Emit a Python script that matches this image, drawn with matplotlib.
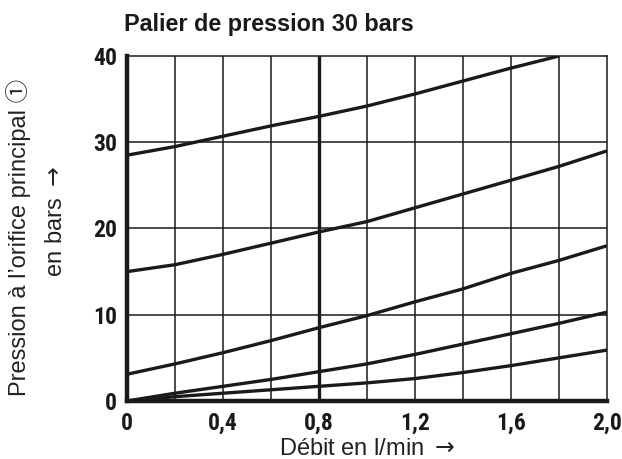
import matplotlib.pyplot as plt
from matplotlib import font_manager
import numpy as np

# Débit (l/min) and pressure curves
debit = [0.0, 0.2, 0.4, 0.6, 0.8, 1.0, 1.2, 1.4, 1.6, 1.8, 2.0]
courbe_1 = [28.5, 29.5, 30.7, 31.9, 33.0, 34.2, 35.6, 37.1, 38.6, 40.0]
courbe_2 = [15.0, 15.8, 17.0, 18.3, 19.6, 20.8, 22.4, 24.0, 25.6, 27.2, 29.0]
courbe_3 = [3.1, 4.3, 5.6, 7.0, 8.5, 9.9, 11.5, 13.0, 14.8, 16.3, 18.0]
courbe_4 = [0.0, 0.9, 1.7, 2.5, 3.4, 4.3, 5.4, 6.6, 7.8, 9.0, 10.3]
courbe_5 = [0.0, 0.5, 0.9, 1.3, 1.7, 2.1, 2.6, 3.3, 4.1, 5.0, 5.9]

xticks = [0.0, 0.4, 0.8, 1.2, 1.6, 2.0]
xtick_labels = ["0", "0,4", "0,8", "1,2", "1,6", "2,0"]
yticks = [0, 10, 20, 30, 40]

# pick a condensed face for the tick numbers if one is around
installed = {f.name for f in font_manager.fontManager.ttflist}
narrow = None
for cand in ["Liberation Sans Narrow", "Roboto Condensed", "Arial Narrow", "Nimbus Sans Narrow"]:
    if cand in installed:
        narrow = cand
        break
tick_stretch = "normal"
if narrow is None:
    dv_cond = [f for f in font_manager.fontManager.ttflist
               if f.name == "DejaVu Sans" and f.stretch == "condensed"]
    if dv_cond:
        narrow, tick_stretch = "DejaVu Sans", "condensed"
if narrow is None:
    tick_font = dict(family=["Liberation Sans"], weight="bold", size=15)
else:
    tick_font = dict(family=[narrow], weight="bold", size=17, stretch=tick_stretch)

fig = plt.figure(figsize=(6.22, 4.59), dpi=100)
ax = fig.add_axes([0.2042, 0.1264, 0.7717, 0.7516])

ink = "#1a1a1a"

# grid
for x in np.arange(0.2, 2.0, 0.2):
    lw = 2.4 if abs(x - 0.8) < 1e-6 else 1.1
    ax.axvline(x, color=ink, lw=lw, zorder=1)
for y in [10, 20, 30]:
    ax.axhline(y, color=ink, lw=1.1, zorder=1)

for c in [courbe_1, courbe_2, courbe_3, courbe_4, courbe_5]:
    ax.plot(debit[:len(c)], c, color=ink, lw=2.4, solid_capstyle="butt", zorder=3)

ax.set_xlim(0, 2.0)
ax.set_ylim(0, 40)

for side in ["top", "right"]:
    ax.spines[side].set_linewidth(1.1)
    ax.spines[side].set_color(ink)
for side in ["left", "bottom"]:
    ax.spines[side].set_linewidth(3.2)
    ax.spines[side].set_color(ink)

ax.set_xticks(xticks)
ax.set_xticklabels(xtick_labels, **tick_font)
ax.set_yticks(yticks)
ax.set_yticklabels([str(v) for v in yticks], **tick_font)
ax.tick_params(axis="y", length=0, pad=7, colors=ink)
ax.tick_params(axis="x", length=0, pad=8, colors=ink)

label_family = ["Liberation Sans", "Noto Sans CJK JP", "DejaVu Sans"]
ax.set_xlabel("Débit en l/min $\\rightarrow$", family=label_family, size=17, color="#222222",
              labelpad=2)
ax.set_ylabel("Pression à l\u2019orifice principal \u2460\n     en bars $\\rightarrow$", family=label_family,
              size=17, color="#222222", linespacing=1.8, multialignment="center")
ax.yaxis.set_label_coords(-0.126, 0.474)

fig.text(0.199, 0.932, "Palier de pression 30 bars", family=label_family,
         weight="bold", size=16.8, color=ink, ha="left", va="baseline")

fig.savefig("out.png", dpi=100)
